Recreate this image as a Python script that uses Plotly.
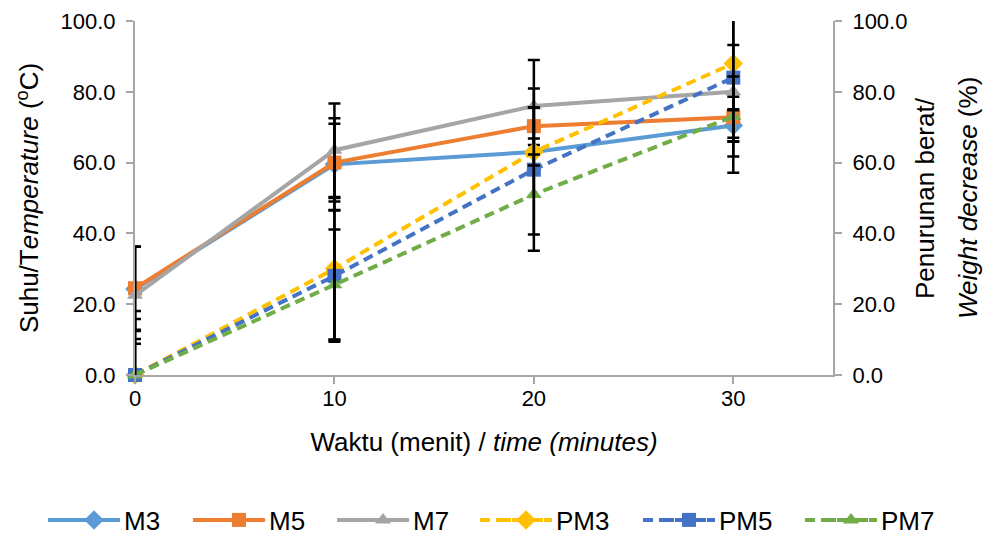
import plotly.graph_objects as go

# ---- data ----
time_min = [0, 10, 20, 30]

M3 = [24.3, 59.5, 63.0, 70.5]
M5 = [24.5, 60.0, 70.3, 72.8]
M7 = [22.5, 63.5, 76.0, 80.0]
PM3 = [0.0, 30.0, 63.0, 88.0]
PM5 = [0.0, 28.0, 58.0, 84.0]
PM7 = [0.0, 25.5, 51.0, 73.0]

M3_err = [11.9, 13.0, 12.6, 4.6]
M5_err = [11.7, 11.0, 5.3, 5.8]
M7_err = [13.7, 13.2, 13.0, 22.9]
PM3_err = [10.2, 20.0, 3.8, 22.0]
PM5_err = [15.8, 18.6, 22.9, 9.2]
PM7_err = [18.1, 15.6, 11.3, 11.3]

y_ticks = [0, 20, 40, 60, 80, 100]
x_ticks = [0, 10, 20, 30]

FONT = "Liberation Sans, Arial, sans-serif"
AX = "#A6A6A6"
TICK_SIZE = 22
TITLE_SIZE = 26

series = [
    ("M3", M3, M3_err, "#5B9BD5", "diamond", "solid", "y"),
    ("M5", M5, M5_err, "#ED7D31", "square", "solid", "y"),
    ("M7", M7, M7_err, "#A5A5A5", "triangle-up", "solid", "y"),
    ("PM3", PM3, PM3_err, "#FFC000", "diamond", "10px,6px", "y2"),
    ("PM5", PM5, PM5_err, "#4472C4", "square", "10px,6px", "y2"),
    ("PM7", PM7, PM7_err, "#70AD47", "triangle-up", "10px,6px", "y2"),
]
# legend sample start positions (pixels) and layout of the plot area
legend_start_px = [48, 193, 337, 480, 643, 805]
PLOT_L, PLOT_R, PLOT_T, PLOT_B = 135, 833, 21, 375
LEG_Y_PX = 520
SAMPLE_LEN = 72

def px_to_paper_x(px):
    return (px - PLOT_L) / (PLOT_R - PLOT_L)

def px_to_paper_y(py):
    return (PLOT_B - py) / (PLOT_B - PLOT_T)

fig = go.Figure()
legends = {}
shapes = []
for i, (name, vals, err, col, sym, dash, ax) in enumerate(series):
    lg = "legend" if i == 0 else f"legend{i+1}"
    fig.add_trace(go.Scatter(
        x=time_min, y=vals, name=name, yaxis=ax, mode="lines+markers",
        line=dict(color=col, width=4, dash=dash),
        marker=dict(symbol=sym, size=14 if sym != "diamond" else 15, color=col),
        cliponaxis=False, legend=lg,
    ))
    s = legend_start_px[i]
    legends[lg] = dict(
        orientation="h", xref="container", yref="container",
        x=(s + 16) / 1005, xanchor="left", y=1 - LEG_Y_PX / 535, yanchor="middle",
        font=dict(family=FONT, size=TITLE_SIZE, color="black"),
        bgcolor="rgba(0,0,0,0)", itemwidth=50,
    )
    shapes.append(dict(
        type="line", xref="paper", yref="paper",
        x0=px_to_paper_x(s), x1=px_to_paper_x(s + SAMPLE_LEN),
        y0=px_to_paper_y(LEG_Y_PX), y1=px_to_paper_y(LEG_Y_PX),
        line=dict(color=col, width=4, dash=dash),
    ))
for name, vals, err, col, sym, dash, ax in series:
    fig.add_trace(go.Scatter(
        x=time_min, y=vals, yaxis=ax, mode="markers", showlegend=False,
        marker=dict(size=1, color="rgba(0,0,0,0)"),
        error_y=dict(type="data", array=err, color="black", thickness=2.5, width=6),
        cliponaxis=True, hoverinfo="skip",
    ))

axis_common = dict(
    range=[0, 100], tickvals=y_ticks, tickformat=".1f",
    showgrid=False, zeroline=False, showline=True, linecolor=AX, linewidth=2,
    ticks="outside", ticklen=7, tickcolor=AX, tickwidth=2,
    tickfont=dict(family=FONT, size=TICK_SIZE, color="black"),
    ticklabelstandoff=6,
)

fig.update_layout(
    width=1005, height=535,
    margin=dict(l=PLOT_L, r=1005 - PLOT_R, t=PLOT_T, b=535 - PLOT_B, autoexpand=False),
    paper_bgcolor="white", plot_bgcolor="white",
    font=dict(family=FONT, size=TICK_SIZE, color="black"),
    xaxis=dict(
        range=[0, 35], tickvals=x_ticks, showgrid=False, zeroline=False,
        showline=True, linecolor=AX, linewidth=2, ticks="outside", ticklen=7,
        tickcolor=AX, tickwidth=2, tickfont=dict(family=FONT, size=TICK_SIZE, color="black"),
        ticklabelstandoff=-4,
        title=dict(text="Waktu (menit) / <i>time (minutes)</i>", standoff=22,
                   font=dict(family=FONT, size=TITLE_SIZE, color="black")),
    ),
    yaxis=dict(**axis_common,
               title=dict(text="Suhu/T<i>emperature</i> (<sup>o</sup>C)", standoff=14,
                          font=dict(family=FONT, size=TITLE_SIZE, color="black"))),
    yaxis2=dict(**axis_common, overlaying="y", side="right", anchor="x"),
    annotations=[
        dict(text="Penurunan berat/", textangle=-90, xref="paper", yref="paper",
             x=px_to_paper_x(925), y=0.5, xanchor="center", yanchor="middle",
             showarrow=False, font=dict(family=FONT, size=TITLE_SIZE, color="black")),
        dict(text="<i>Weight decrease</i> (%)", textangle=-90, xref="paper", yref="paper",
             x=px_to_paper_x(968), y=0.5, xanchor="center", yanchor="middle",
             showarrow=False, font=dict(family=FONT, size=TITLE_SIZE, color="black")),
    ],
    shapes=shapes,
    showlegend=True,
    **legends,
)

fig.write_html("out.html")
